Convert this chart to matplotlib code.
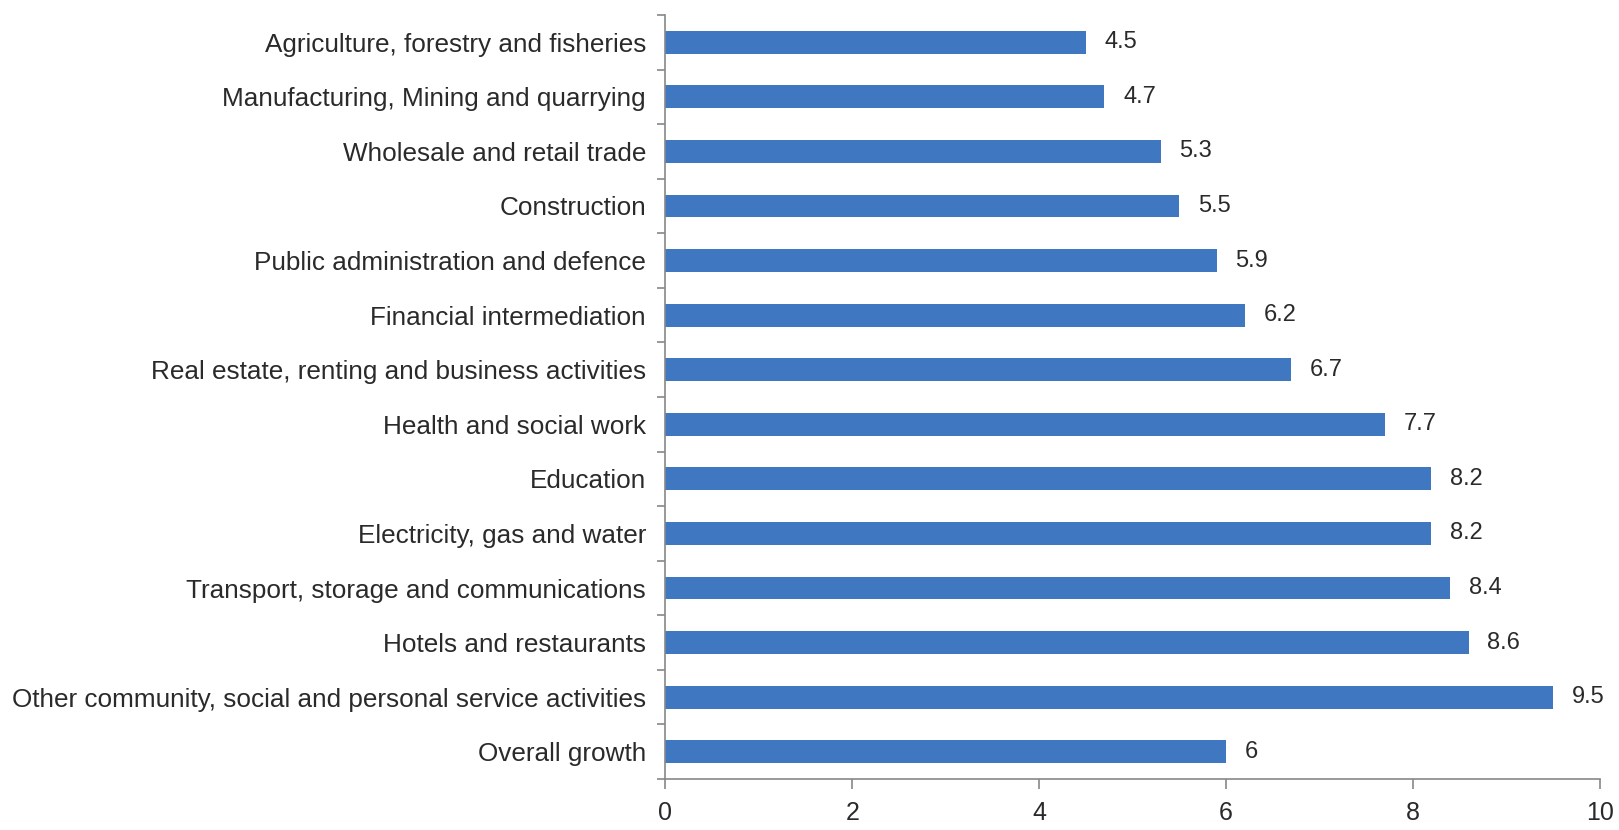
import numpy as np
import matplotlib
matplotlib.use("Agg")
import matplotlib.pyplot as plt

categories = [
    "Agriculture, forestry and fisheries",
    "Manufacturing, Mining and quarrying",
    "Wholesale and retail trade",
    "Construction",
    "Public administration and defence",
    "Financial intermediation",
    "Real estate, renting and business activities",
    "Health and social work",
    "Education",
    "Electricity, gas and water",
    "Transport, storage and communications",
    "Hotels and restaurants",
    "Other community, social and personal service activities",
    "Overall growth",
]
values = [4.5, 4.7, 5.3, 5.5, 5.9, 6.2, 6.7, 7.7, 8.2, 8.2, 8.4, 8.6, 9.5, 6]
value_labels = ["4.5", "4.7", "5.3", "5.5", "5.9", "6.2", "6.7", "7.7", "8.2", "8.2", "8.4", "8.6", "9.5", "6"]
xticks = [0, 2, 4, 6, 8, 10]

plt.rcParams['font.family'] = ['Liberation Sans', 'DejaVu Sans']

fig = plt.figure(figsize=(16.19, 8.3), dpi=100)
ax = fig.add_axes([0.411, 0.0614, 0.577, 0.9206])

n = len(categories)
y = np.arange(n)
ax.barh(y, values, height=0.42, color='#3F77C0', zorder=2)

for yi, v, lab in zip(y, values, value_labels):
    ax.text(v + 0.2, yi, lab, va='center', ha='left', fontsize=17, color='#2a2a2a')

ax.set_ylim(n - 0.5, -0.5)
ax.set_xlim(0, 10)
ax.set_yticks(y)
ax.set_yticklabels(categories, fontsize=18.8, color='#2a2a2a')
ax.set_yticks(np.arange(n + 1) - 0.5, minor=True)
ax.tick_params(axis='y', which='major', length=0, pad=14)
ax.tick_params(axis='y', which='minor', length=6, color='#888888', width=1.2)
ax.set_xticks(xticks)
ax.set_xticklabels([str(t) for t in xticks], fontsize=18, color='#2a2a2a')
ax.tick_params(axis='x', length=7, color='#888888', width=1.2, pad=9)

for s in ['top', 'right']:
    ax.spines[s].set_visible(False)
for s in ['left', 'bottom']:
    ax.spines[s].set_color('#888888')
    ax.spines[s].set_linewidth(1.2)

fig.savefig('out.png', dpi=100)
